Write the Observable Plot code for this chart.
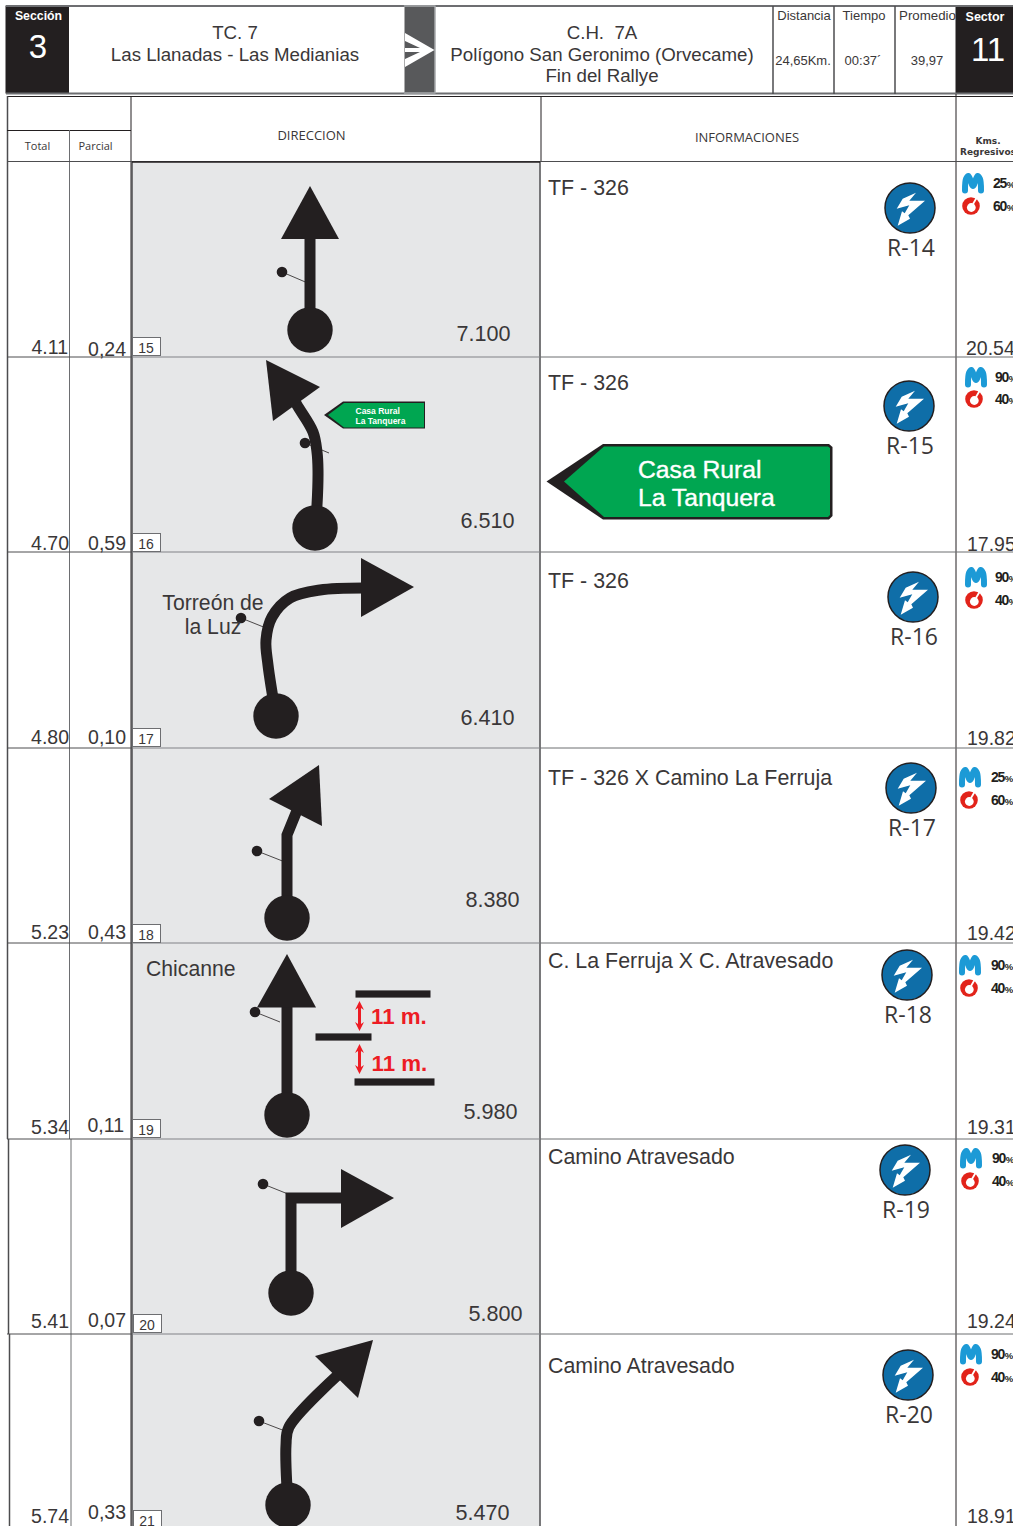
<!DOCTYPE html>
<html><head><meta charset="utf-8">
<script src="https://cdn.jsdelivr.net/npm/d3@7"></script>
<script src="https://cdn.jsdelivr.net/npm/@observablehq/plot@0.6"></script>
<style>html,body{margin:0;padding:0;background:#fff}svg{display:block}</style>
</head><body><div id="chart"></div>
<script>
// ---- values ----
const totals   = ["4.11","4.70","4.80","5.23","5.34","5.41","5.74"];
const partials = ["0,24","0,59","0,10","0,43","0,11","0,07","0,33"];
const boxes    = ["15","16","17","18","19","20","21"];
const dists    = ["7.100","6.510","6.410","8.380","5.980","5.800","5.470"];
const regress  = ["20.54","17.95","19.82","19.42","19.31","19.24","18.91"];
const infos    = ["TF - 326","TF - 326","TF - 326","TF - 326 X Camino La Ferruja","C. La Ferruja X C. Atravesado","Camino Atravesado","Camino Atravesado"];
const refs     = ["R-14","R-15","R-16","R-17","R-18","R-19","R-20"];
const movistar = ["25%","90%","90%","25%","90%","90%","90%"];
const vodafone = ["60%","40%","40%","60%","40%","40%","40%"];

// ---- layout ----
const totalY = [347,543,737,932,1127,1321,1516], totalX=[69,70,70,70,70,70,70];
const partY  = [349,543,737,932,1125,1320,1512], partX=[127,127,127,127,125,127,127];
const boxY   = [338,534,729,925,1120,1315,1511], boxX=[133,133,133,133,133,134,134];
const distX  = [484.5,488.5,488.5,493.5,491.5,496.5,483.5], distY=[334,521,718,900,1112,1314,1513];
const regY   = [348,544,738,933,1127,1321,1516], regX=[967,968,968,968,968,968,968];
const infoY  = [188,383,581,778,961,1157,1366];
const refX   = [910,909,913,911,907,905,908], refY=[208,406,597,788,975,1170,1375];
const mX     = [973,976,976,970,970,971,971], mY=[183,377,577,777,965,1158,1354];
const oX     = [971,974,974,969,969,970,970], oY=[206,399,600,800,988,1181,1377];
const pctX   = [994,996,996,992,992,993,992];
const rowY   = [357,552,748,943,1139,1334];
const bolt   = [[6,-15.3],[-.7,-7.3],[15,-7.3],[-1.7,7.3],[0,10.7],[-12.3,17.7],[-8,3.3],[-5.3,5.3],[-.7,-2.7],[-13.3,.7],[-7.3,-9.3]];
const mGlyph = [[-8,7.5],[-7,-4],[-4.5,-7],[0,3],[4.5,-7],[7,-4],[8,7.5]];
const goArrow= [[405,33],[434.5,50],[405,67],[405,59],[420,52],[405,52],[405,48],[420,48],[405,41]];

const grid = [ // x1,y1,x2,y2,width,colour
 [6,6,1014,6,2,"#6d6e71"],[6,93.5,1014,93.5,2,"#6d6e71"],
 [773,6,773,94,1.5,"#4d4d4f"],[834,6,834,94,1.5,"#4d4d4f"],[895,6,895,94,1.5,"#4d4d4f"],
 [7,96.5,1014,96.5,1,"#231f20"],[7.5,96,7.5,1139,1.5,"#4d4d4f"],[8.5,1139,8.5,1334,1.5,"#4d4d4f"],[9.5,1334,9.5,1527,1.5,"#4d4d4f"],
 [7,130.5,131,130.5,1,"#231f20"],[69.5,130,69.5,1139,1,"#6d6e71"],[71,1139,71,1527,1,"#6d6e71"],
 [131,96,131,1527,1,"#231f20"],[541,96,541,162,1,"#231f20"],
 [956,94,956,1527,1,"#231f20"],[7,161.5,1014,161.5,1,"#4d4d4f"],
 [540,162,540,1527,1.5,"#4d4d4f"],[132,162,132,1527,1.5,"#4d4d4f"],[132,162,540,162,1.5,"#231f20"],
 ...rowY.map(y=>[7,y,132,y,1,"#4d4d4f"]),
 ...rowY.map(y=>[132,y,540,y,1.2,"#808285"]),
 ...rowY.map(y=>[540,y,1014,y,1,"#6d6e71"])
];

// route diagrams
const circles = [[310,330],[315,528],[276,716],[287,918],[287,1115],[291,1293],[288,1505]];
const dotsSm  = [[282,272],[305,443],[241,618],[257,851],[255,1012],[263,1184],[259,1421]];
const ticks   = [[310,284],[329,453],[266,628],[285,862],[280,1022],[288,1194],[285,1431]];
const stems = [
 {pts:[[310,330],[310,235]],curve:"linear"},
 {pts:[[315,528],[317,505],[318,470],[317,452],[313,432],[297,405],[290,392]],curve:"catmull-rom"},
 {pts:[[276,716],[268,665],[266,640],[272,617],[290,598],[320,590],[365,588]],curve:"catmull-rom"},
 {pts:[[287,918],[287,835],[298,808]],curve:"linear"},
 {pts:[[287,1115],[287,1000]],curve:"linear"},
 {pts:[[291,1293],[291,1198],[346,1198]],curve:"linear"},
 {pts:[[288,1505],[286,1445],[289,1427],[340,1373]],curve:"catmull-rom"}
];
const heads = [
 [[310,186],[281,239],[339,239]],
 [[266,360],[320,387],[273,421]],
 [[361,558],[414,587],[361,617]],
 [[319,765],[322,826],[269,799]],
 [[287,954],[257,1007.5],[316,1007.5]],
 [[341,1169],[394,1198],[341,1228]],
 [[373,1340],[315,1356],[358,1398]]
];
const chicanes = [[356,994.5,431],[316,1037.5,372],[355,1082.5,435]];
const redArrows = [[359.5,1001],[359.5,1044]];
const redShape = [[0,0],[4.5,9],[1.5,7],[1.5,23],[4.5,21],[0,30],[-4.5,21],[-1.5,23],[-1.5,7],[-4.5,9]];

const poly = (id,pts,fill)=>pts.map(([x,y])=>({id,x,y,fill}));
const polys = [
 ...poly("sSmall",[[324,415],[343,401.5],[425,401.5],[425,428.5],[343,428.5]],"#231f20"),
 ...poly("sSmallG",[[328,415],[344,403],[424,403],[424,427.5],[344,427.5]],"#00a651"),
 ...poly("sBig",[[546.5,481.5],[603,444],[829,444],[832.5,447],[832.5,516],[829,519.5],[603,519.5]],"#231f20"),
 ...poly("sBigG",[[564,481.5],[604,446.5],[828,446.5],[830,448],[830,515],[828,517],[604,517]],"#00a651"),
 ...poly("go",[[404.5,6],[435,6],[435,93],[404.5,93]],"#58595b"),
 ...redArrows.flatMap(([x,y],i)=>poly("ra"+i,redShape.map(([a,b])=>[x+a,y+b]),"#ed1c24")),
 ...refX.flatMap((x,i)=>poly("b"+i,bolt.map(([a,b])=>[x+a,refY[i]+b]),"#fff"))
];

const F="Liberation Sans", O="Open Sans", ink="#3a3738";
const T=(t,x,y,o={})=>Plot.text([t],{x:()=>x,y:()=>y,text:d=>d,fontFamily:F,fontSize:18.7,fill:ink,dx:-1,dy:.5,...o});
const TS=(arr,xs,ys,o)=>Plot.text(arr,{x:(d,i)=>xs[i],y:(d,i)=>ys[i],text:d=>d,fontFamily:F,fill:ink,dx:-1,dy:.5,...o});

const chart = Plot.plot({
 width:1013,height:1526,margin:0,
 x:{domain:[0,1013],range:[-.5,1012.5],axis:null},
 y:{domain:[0,1526],range:[-.5,1525.5],axis:null},
 marks:[
  // panels, header blocks
  Plot.rect([0],{x1:132,x2:540,y1:162,y2:1527,fill:"#e6e7e8"}),
  Plot.rect([0],{x1:6,x2:69.5,y1:6,y2:94,fill:"#231f20"}),
  Plot.rect([0],{x1:956,x2:1014,y1:6,y2:94,fill:"#231f20"}),
  Plot.link(grid,{x1:d=>d[0],y1:d=>d[1],x2:d=>d[2],y2:d=>d[3],strokeWidth:d=>d[4],stroke:d=>d[5]}),
  // polygons
  Plot.line(polys.filter(d=>d.id==="go"),{x:"x",y:"y",fill:"#58595b",stroke:"#a7a9ac",strokeWidth:1.5}),
  Plot.line(goArrow,{x:d=>d[0],y:d=>d[1],fill:"#fff",stroke:"none"}),
  Plot.line(polys.filter(d=>d.id.startsWith("s")),{x:"x",y:"y",z:"id",fill:"fill",stroke:"none"}),
  // route stems
  ...stems.map(s=>Plot.line(s.pts,{x:d=>d[0],y:d=>d[1],stroke:"#231f20",strokeWidth:11,curve:s.curve,strokeLinejoin:"miter",strokeMiterlimit:10,strokeLinecap:"butt"})),
  Plot.line(heads.flatMap((h,i)=>h.map(p=>({i,x:p[0],y:p[1]}))),{x:"x",y:"y",z:"i",fill:"#231f20",stroke:"none"}),
  Plot.dot(circles,{x:d=>d[0],y:d=>d[1],r:22.7,fill:"#231f20",stroke:"none"}),
  Plot.link(dotsSm,{x1:d=>d[0],y1:d=>d[1],x2:(d,i)=>ticks[i][0],y2:(d,i)=>ticks[i][1],stroke:"#231f20",strokeWidth:.8}),
  Plot.dot(dotsSm,{x:d=>d[0],y:d=>d[1],r:5.3,fill:"#231f20",stroke:"none"}),
  Plot.rect(chicanes,{x1:d=>d[0],x2:d=>d[2],y1:d=>d[1]-3.6,y2:d=>d[1]+3.6,fill:"#231f20"}),
  Plot.line(polys.filter(d=>d.id.startsWith("ra")),{x:"x",y:"y",z:"id",fill:"#ed1c24",stroke:"none"}),
  // boxed waypoint numbers
  Plot.rect(boxes,{x1:(d,i)=>boxX[i],x2:(d,i)=>boxX[i]+28,y1:(d,i)=>boxY[i],y2:(d,i)=>Math.min(boxY[i]+18,1527),fill:"#fff",stroke:"#6d6e71",strokeWidth:1}),
  // blue R icons
  Plot.dot(refs,{x:(d,i)=>refX[i],y:(d,i)=>refY[i],r:25,fill:"#0f6ea8",stroke:"#231f20",strokeWidth:1.5}),
  Plot.line(polys.filter(d=>d.id[0]==="b"),{x:"x",y:"y",z:"id",fill:"#fff",stroke:"none"}),
  // operator icons
  ...mX.map((x,i)=>Plot.line(mGlyph,{x:d=>x+d[0],y:d=>mY[i]+d[1],stroke:"#1c9ad6",strokeWidth:6,strokeLinejoin:"round",strokeLinecap:"round",curve:"catmull-rom"})),
  Plot.dot(vodafone,{x:(d,i)=>oX[i],y:(d,i)=>oY[i],r:8.8,fill:"#e2231a",stroke:"none"}),
  Plot.dot(vodafone,{x:(d,i)=>oX[i]+.3,y:(d,i)=>oY[i]+1.5,r:4.4,fill:"#fff",stroke:"none"}),
  Plot.link(vodafone,{x1:(d,i)=>oX[i]+2,y1:(d,i)=>oY[i]-2,x2:(d,i)=>oX[i]+5.5,y2:(d,i)=>oY[i]-8,stroke:"#fff",strokeWidth:1.8}),
  // texts
  T("Sección",39.5,16,{fill:"#fff",fontWeight:"bold",fontSize:12.3}),
  T("3",39,47,{fill:"#fff",fontSize:33}),
  T("Sector",986,16,{fill:"#fff",fontWeight:"bold",fontSize:12.5}),
  T("11",989,50,{fill:"#fff",fontSize:33}),
  T("TC. 7",236,33),T("Las Llanadas - Las Medianias",236,55),
  T("C.H.  7A",603,33),T("Polígono San Geronimo (Orvecame)",603,55),T("Fin del Rallye",603,76),
  T("Distancia",805,15,{fontSize:13}),T("Tiempo",865,15,{fontSize:13}),T("Promedio",928.5,15,{fontSize:13.3}),
  T("24,65Km.",804,60,{fontSize:13}),T("00:37´",864,60,{fontSize:13}),T("39,97",928,60,{fontSize:13}),
  T("DIRECCION",312.5,135,{fontFamily:O,fontSize:13}),T("INFORMACIONES",748,137,{fontFamily:O,fontSize:13}),
  T("Total",38.5,146,{fontFamily:O,fontSize:11}),T("Parcial",96.5,146,{fontFamily:O,fontSize:11}),
  T("Kms.",989,141,{fontWeight:"bold",fontSize:9,fontFamily:"DejaVu Sans"}),T("Regresivos",989,152,{fontWeight:"bold",fontSize:9,fontFamily:"DejaVu Sans"}),
  TS(totals,totalX,totalY,{fontSize:19.5,textAnchor:"end"}),
  TS(partials,partX,partY,{fontSize:19.5,textAnchor:"end"}),
  TS(boxes,boxX.map(x=>x+14),boxY.map(y=>y+10),{fontSize:14}),
  TS(dists,distX,distY,{fontSize:21.6}),
  TS(regress,regX,regY,{fontSize:19.5,textAnchor:"start"}),
  TS(infos,infos.map(()=>549),infoY,{fontSize:21.4,textAnchor:"start"}),
  TS(refs,refX.map(x=>x+2),refY.map(y=>y+40),{fontSize:23,fontFamily:O}),
  TS(movistar,pctX,mY,{className:"pct",fontSize:14,fontWeight:"bold",textAnchor:"start",fill:"#231f20"}),
  TS(vodafone,pctX,oY,{className:"pct",fontSize:14,fontWeight:"bold",textAnchor:"start",fill:"#231f20"}),
  T("Torreón de",214,603,{fontSize:21.2}),T("la Luz",214,627,{fontSize:21.2}),
  T("Chicanne",147,969,{fontSize:21.2,textAnchor:"start"}),
  T("11 m.",372,1016,{fontSize:22.3,fontWeight:"bold",textAnchor:"start",fill:"#ed1c24"}),
  T("11 m.",372.5,1063,{fontSize:22.3,fontWeight:"bold",textAnchor:"start",fill:"#ed1c24"}),
  T("Casa Rural",356.5,411,{fontSize:8.5,fontWeight:"bold",textAnchor:"start",fill:"#fff"}),
  T("La Tanquera",356.5,421,{fontSize:8.5,fontWeight:"bold",textAnchor:"start",fill:"#fff"}),
  T("Casa Rural",639,470,{fontSize:24.7,textAnchor:"start",fill:"#fff",stroke:"#fff",strokeWidth:.4}),
  T("La Tanquera",639,498,{fontSize:24.7,textAnchor:"start",fill:"#fff",stroke:"#fff",strokeWidth:.4})
 ]
});
// condensed percent glyphs: small % sign, digits tightened
d3.select(chart).selectAll(".pct text").each(function(){
  const s=this.textContent, sel=d3.select(this).attr("letter-spacing","-1.2");
  sel.text(s.slice(0,-1));
  sel.append("tspan").attr("font-size",9.5).attr("dx",.5).attr("letter-spacing","-1").text("%");
});
document.getElementById("chart").appendChild(chart);
</script></body></html>
